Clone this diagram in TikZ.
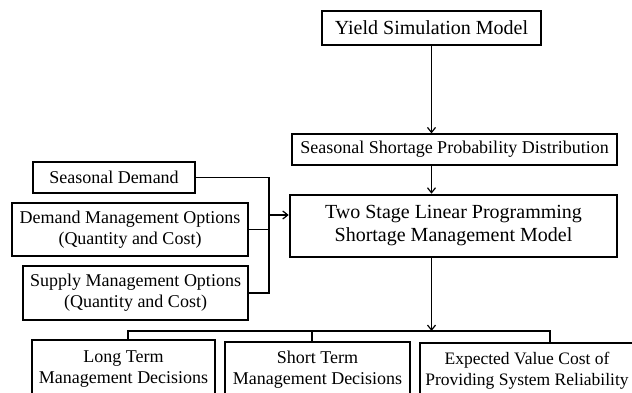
\documentclass[tikz,border=0pt]{standalone}
\usepackage{fontspec}
\setmainfont{Liberation Serif}
\usetikzlibrary{arrows.meta}

\begin{document}
\begin{tikzpicture}[x=1pt,y=-1pt]
        \useasboundingbox (0,0) rectangle (632,393);
        \begin{scope}[every node/.style={draw,line width=2.6pt,inner sep=0pt,align=center,font=\fontsize{20}{23}\selectfont}]
            \node (ysm) [minimum width=219pt,minimum height=34pt] at (431.5,28) {Yield Simulation Model};
            \node (lp)  [minimum width=327pt,minimum height=62pt] at (453.5,226) {Two Stage Linear Programming\\Shortage Management Model};
        \end{scope}
        \begin{scope}[every node/.style={draw,line width=1.2pt,inner sep=0pt,align=center,font=\fontsize{18}{21}\selectfont}]
            \node (sspd) [minimum width=325pt,minimum height=31pt] at (454.5,149.5) {Seasonal Shortage Probability Distribution};
            \node (sd)  [minimum width=162pt,minimum height=31pt] at (114,177.5) {Seasonal Demand};
            \node (dmo) [minimum width=236pt,minimum height=53pt] at (130,229.5) {Demand Management Options\\(Quantity and Cost)};
            \node (smo) [minimum width=225pt,minimum height=54pt] at (135.5,293) {Supply Management Options\\(Quantity and Cost)};
            \node (lt)  [minimum width=183pt,minimum height=58pt] at (123.5,369) {Long Term\\Management Decisions};
            \node (st)  [minimum width=185pt,minimum height=56pt] at (317.5,370) {Short Term\\Management Decisions};
            \node (ev)  [minimum width=214pt,minimum height=56pt,font=\fontsize{17.5}{21}\selectfont] at (527,371) {Expected Value Cost of\\Providing System Reliability};
        \end{scope}
        \coordinate (join) at (269,215);
        \coordinate (b1) at (128,331);
        \coordinate (b2) at (312,331);
        \coordinate (b3) at (550,331);
        \begin{scope}[every edge/.style={draw,line width=1.2pt,-{Straight Barb[length=5pt,width=8pt]}}]
            \path
                (ysm.south) edge (ysm.south |- sspd.north)
                (ysm |- sspd.south) edge (ysm |- lp.north)
                (join) edge (join -| lp.west)
                (ysm |- lp.south) edge (ysm |- b1);
        \end{scope}
        \begin{scope}[line width=1.2pt]
            \draw (sd.east) -| (smo.east -| join) -- (smo.east);
            \draw (dmo.east) -- (dmo.east -| join);
            \draw (b1 |- lt.north) -- (b1) -- (b3) -- (b3 |- ev.north);
            \draw (b2) -- (b2 |- st.north);
        \end{scope}
    \end{tikzpicture}
\end{document}
